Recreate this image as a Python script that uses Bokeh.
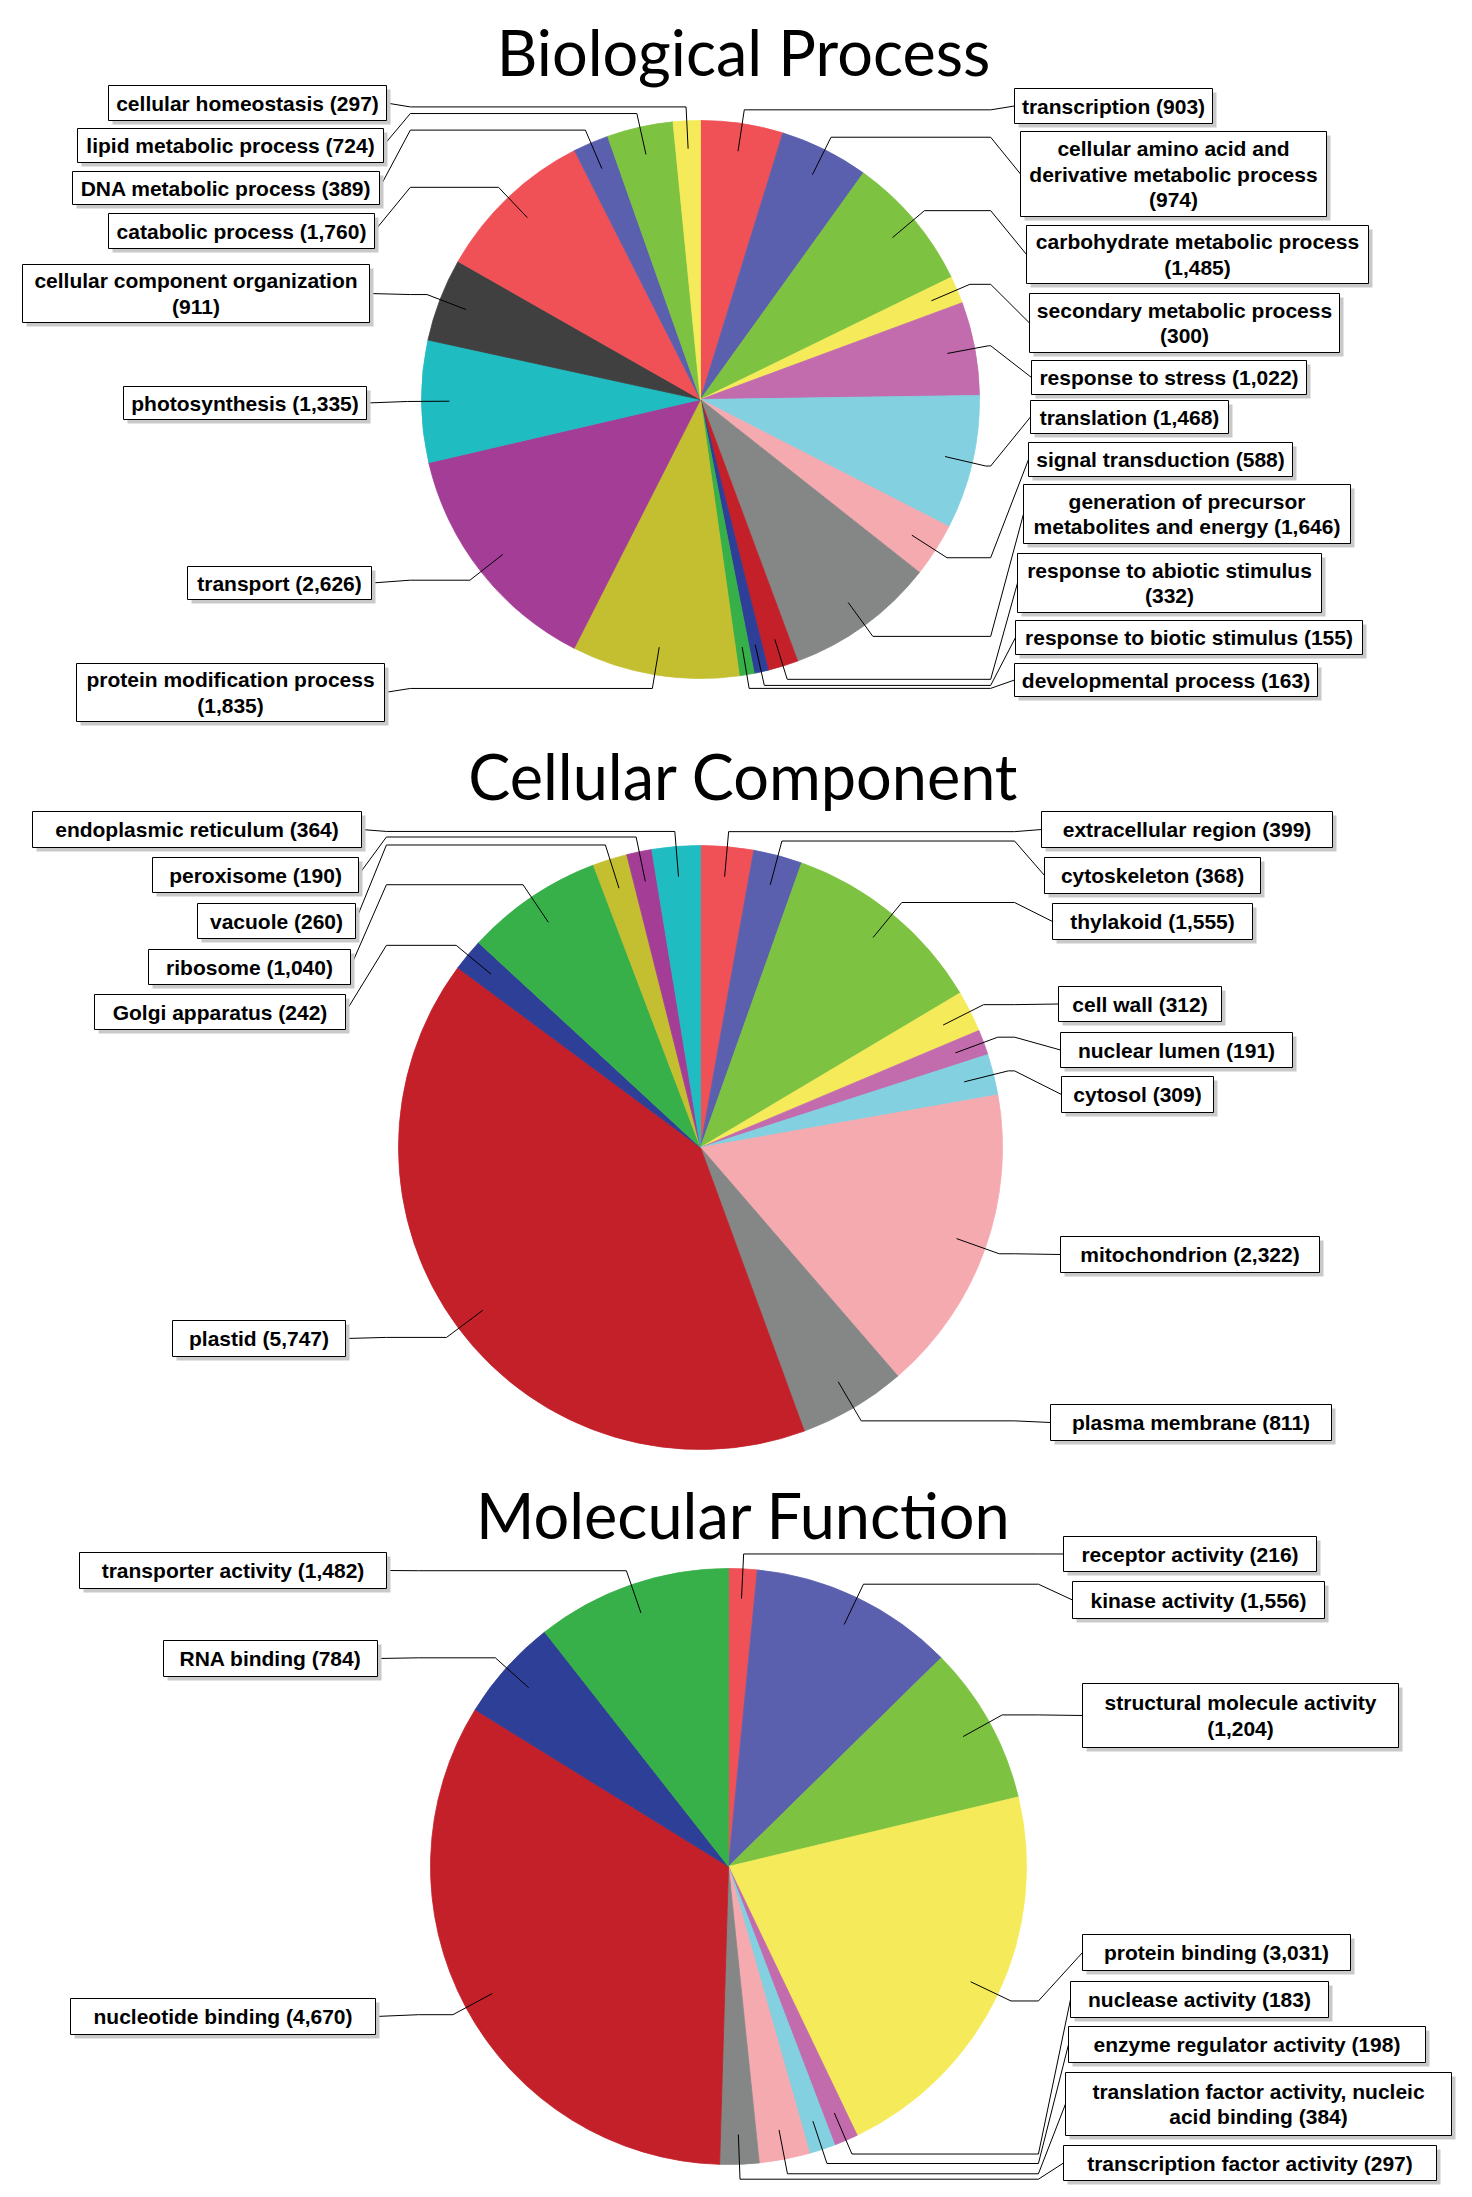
import math
from bokeh.plotting import figure
from bokeh.models import Range1d
from bokeh.embed import file_html
from bokeh.resources import INLINE
from bokeh.core.properties import value

# ---------------- data ----------------
bp_title = "Biological Process"
bp_categories = [
    "transcription", "cellular amino acid and derivative metabolic process",
    "carbohydrate metabolic process", "secondary metabolic process",
    "response to stress", "translation", "signal transduction",
    "generation of precursor metabolites and energy",
    "response to abiotic stimulus", "response to biotic stimulus",
    "developmental process", "protein modification process", "transport",
    "photosynthesis", "cellular component organization", "catabolic process",
    "DNA metabolic process", "lipid metabolic process", "cellular homeostasis",
]
bp_values = [903, 974, 1485, 300, 1022, 1468, 588, 1646, 332, 155, 163,
             1835, 2626, 1335, 911, 1760, 389, 724, 297]

cc_title = "Cellular Component"
cc_categories = [
    "extracellular region", "cytoskeleton", "thylakoid", "cell wall",
    "nuclear lumen", "cytosol", "mitochondrion", "plasma membrane", "plastid",
    "Golgi apparatus", "ribosome", "vacuole", "peroxisome",
    "endoplasmic reticulum",
]
cc_values = [399, 368, 1555, 312, 191, 309, 2322, 811, 5747, 242, 1040, 260,
             190, 364]

mf_title = "Molecular Function"
mf_categories = [
    "receptor activity", "kinase activity", "structural molecule activity",
    "protein binding", "nuclease activity", "enzyme regulator activity",
    "translation factor activity, nucleic acid binding",
    "transcription factor activity", "nucleotide binding", "RNA binding",
    "transporter activity",
]
mf_values = [216, 1556, 1204, 3031, 183, 198, 384, 297, 4670, 784, 1482]

# label wrapping (layout only)
WRAP = {
    "cellular component organization": "cellular component organization\n({v})",
    "cellular amino acid and derivative metabolic process":
        "cellular amino acid and\nderivative metabolic process\n({v})",
    "carbohydrate metabolic process": "carbohydrate metabolic process\n({v})",
    "secondary metabolic process": "secondary metabolic process\n({v})",
    "generation of precursor metabolites and energy":
        "generation of precursor\nmetabolites and energy ({v})",
    "response to abiotic stimulus": "response to abiotic stimulus\n({v})",
    "protein modification process": "protein modification process\n({v})",
    "structural molecule activity": "structural molecule activity\n({v})",
    "translation factor activity, nucleic acid binding":
        "translation factor activity, nucleic\nacid binding ({v})",
}

PALETTE = ["#EF5157", "#5A60AE", "#7EC242", "#F5EB5A", "#C26BAD", "#82D0E0",
           "#F5AAAF", "#858786", "#C3202A", "#2E3F97", "#37B04A", "#C4BF30",
           "#A33D96", "#1FBCC1", "#404040"]

# ---------------- layout (page pixel coordinates, y downward) ----------------
H = 2197
FIG_W, FIG_H = 1464, 2189
Y_OFFSET = 4   # vertical nudge of the whole drawing

bp_layout = dict(cx=700, cy=403, r=279, title_y=77)
cc_layout = dict(cx=700, cy=1151, r=302, title_y=801)
mf_layout = dict(cx=728, cy=1870, r=298, title_y=1540)
TITLE_X = 743
TITLE_SHIFT = 22   # compensation for text baseline placement

bp_boxes = [
    (1014, 92, 1212, 127), (1020, 135, 1326, 220), (1026, 229, 1368, 287),
    (1029, 297, 1339, 356), (1031, 364, 1306, 398), (1030, 404, 1228, 437),
    (1028, 446, 1292, 480), (1023, 488, 1350, 547), (1017, 557, 1321, 616),
    (1015, 624, 1362, 658), (1014, 667, 1317, 700), (76, 667, 384, 725),
    (187, 570, 371, 603), (123, 390, 366, 423), (22, 268, 369, 326),
    (108, 217, 374, 252), (72, 175, 379, 208), (77, 132, 383, 166),
    (108, 89, 386, 124),
]
cc_boxes = [
    (1041, 815, 1332, 851), (1044, 861, 1260, 897), (1052, 907, 1252, 943),
    (1058, 990, 1221, 1025), (1060, 1036, 1292, 1071), (1061, 1080, 1213, 1116),
    (1060, 1240, 1319, 1276), (1050, 1408, 1331, 1444), (172, 1324, 345, 1360),
    (94, 998, 345, 1033), (148, 953, 350, 988), (197, 907, 355, 942),
    (152, 861, 358, 896), (32, 815, 361, 851),
]
mf_boxes = [
    (1063, 1540, 1316, 1575), (1072, 1585, 1324, 1622), (1082, 1687, 1398, 1751),
    (1082, 1938, 1350, 1974), (1070, 1985, 1328, 2021), (1068, 2030, 1425, 2066),
    (1065, 2076, 1451, 2139), (1063, 2149, 1436, 2184), (70, 2002, 375, 2038),
    (163, 1644, 377, 1680), (79, 1556, 386, 1592),
]

LINE_STEP = 25.6
SHADOW = 4


def Y(y):
    return H - y


p = figure(width=FIG_W, height=FIG_H, x_range=Range1d(0, FIG_W),
           y_range=Range1d(H - FIG_H - Y_OFFSET, H - Y_OFFSET),
           toolbar_location=None, output_backend="svg",
           x_axis_type=None, y_axis_type=None, min_border=0)
p.grid.visible = False
p.outline_line_color = None
p.title.visible = False
p.background_fill_color = "white"
p.border_fill_color = "white"


def label_text(cat, v):
    vs = f"{v:,}"
    if cat in WRAP:
        return WRAP[cat].format(v=vs)
    return f"{cat} ({vs})"


def draw_pie(title, cats, vals, lay, boxes):
    cx, cy, R = lay["cx"], lay["cy"], lay["r"]
    n = len(vals)
    total = float(sum(vals))
    cum = 0.0
    starts, ends, mids, colors = [], [], [], []
    for i, v in enumerate(vals):
        f0 = cum / total
        cum += v
        f1 = cum / total
        starts.append(math.pi / 2 - 2 * math.pi * f0)
        ends.append(math.pi / 2 - 2 * math.pi * f1)
        mids.append(math.pi * (f0 + f1))
        colors.append(PALETTE[i % len(PALETTE)])
    p.wedge(x=[cx] * n, y=[Y(cy)] * n, radius=R, start_angle=starts,
            end_angle=ends, direction="clock", fill_color=colors,
            line_color=colors, line_width=0.8)

    # leader lines
    xs, ys = [], []
    for m, (l, t, r, b) in zip(mids, boxes):
        ax, ay = cx + 0.9 * R * math.sin(m), cy - 0.9 * R * math.cos(m)
        ex, ey = cx + 1.05 * R * math.sin(m), cy - 1.05 * R * math.cos(m)
        right = l > cx
        jx = cx + 1.04 * R if right else cx - 1.04 * R
        bx = l if right else r
        by = (t + b) / 2.0
        px, py = [ax, ex], [ay, ey]
        if (right and ex < jx) or ((not right) and ex > jx):
            px.append(jx)
            py.append(ey)
        px.append(bx)
        py.append(by)
        xs.append(px)
        ys.append([Y(q) for q in py])
    p.multi_line(xs, ys, line_color="black", line_width=1)

    # boxes with drop shadow
    L = [bx[0] for bx in boxes]
    T = [bx[1] for bx in boxes]
    Rr = [bx[2] for bx in boxes]
    B = [bx[3] for bx in boxes]
    p.quad(left=[v + SHADOW for v in L], right=[v + SHADOW for v in Rr],
           top=[Y(v + SHADOW) for v in T], bottom=[Y(v + SHADOW) for v in B],
           fill_color="#c9c9c9", line_color=None)
    p.quad(left=L, right=Rr, top=[Y(v) for v in T], bottom=[Y(v) for v in B],
           fill_color="white", line_color="black", line_width=1)

    tx, ty, tt = [], [], []
    for cat, v, (l, t, r, b) in zip(cats, vals, boxes):
        lines = label_text(cat, v).split("\n")
        k = len(lines)
        mid_y = (t + b) / 2.0
        for i, line in enumerate(lines):
            tx.append((l + r) / 2.0)
            ty.append(Y(mid_y + (i - (k - 1) / 2.0) * LINE_STEP))
            tt.append(line)
    p.text(x=tx, y=ty, text=tt, text_font=value("Liberation Sans"),
           text_font_style="bold", text_font_size="21px", text_align="center",
           text_baseline="middle", text_color="black")

    p.text(x=[TITLE_X], y=[Y(lay["title_y"] - TITLE_SHIFT)], text=[title],
           text_font=value("Lato"), text_font_size="63px", text_align="center",
           text_baseline="alphabetic", text_color="black")


draw_pie(bp_title, bp_categories, bp_values, bp_layout, bp_boxes)
draw_pie(cc_title, cc_categories, cc_values, cc_layout, cc_boxes)
draw_pie(mf_title, mf_categories, mf_values, mf_layout, mf_boxes)

open("out.html", "w").write(file_html(p, INLINE))
